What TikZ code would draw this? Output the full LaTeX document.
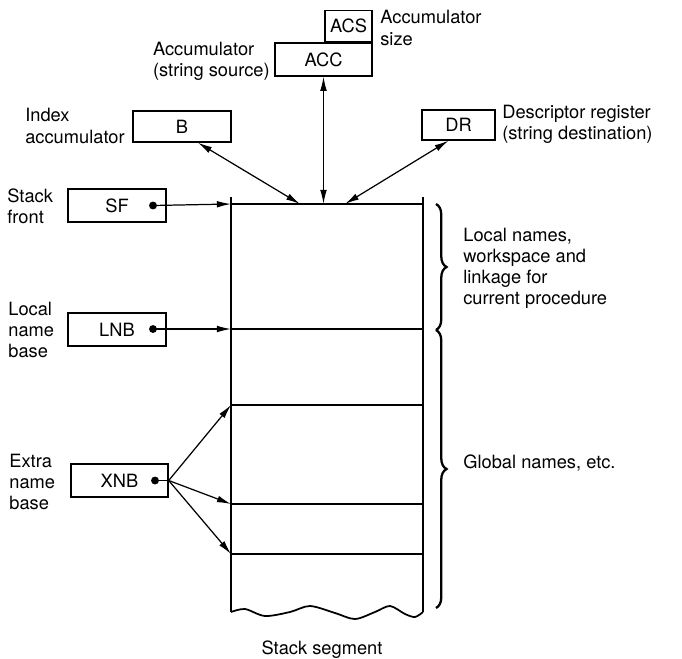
\documentclass[tikz,border=0pt]{standalone}
\usepackage{fontspec}
\setmainfont{TeX Gyre Heros}
\usetikzlibrary{arrows.meta,calc,decorations.pathreplacing}

\begin{document}
\begin{tikzpicture}[x=0.2mm,y=-0.2mm,
	every node/.style={font=\fontsize{10.4}{12}\selectfont},
	reg/.style={draw, line width=0.8pt, inner sep=0pt},
	lbl/.style={align=left, inner sep=0pt},
	dot/.style={circle, fill, inner sep=0pt, minimum size=4.5pt},
	ptr/.style={line width=0.7pt, -{Latex[length=8pt,width=3.8pt]}},
	dptr/.style={line width=0.7pt, {Latex[length=8pt,width=3.8pt]}-{Latex[length=8pt,width=3.8pt]}},
	wall/.style={line width=1pt},
	grp/.style={decorate, decoration={brace, amplitude=6pt}, line width=1.3pt}]
	\useasboundingbox (0,0) rectangle (682,659);
	% registers above the stack
	\node[reg, minimum width=19.4mm, minimum height=6.6mm] (acc) at (323.5,59.5) {ACC};
	\node[reg, minimum width=9.4mm, minimum height=6.2mm, anchor=south east] (acs) at (acc.north east) {ACS};
	\node[lbl, anchor=east] (acclbl) at (270,61) {Accumulator\\(string source)};
	\node[lbl, anchor=west] (acslbl) at (380,28) {Accumulator\\size};
	\node[reg, minimum width=19.6mm, minimum height=6.2mm] (b) at (182,126.5) {B};
	\node[lbl, anchor=east] (blbl) at (125,126) {Index\\accumulator};
	\node[reg, minimum width=14.6mm, minimum height=6mm] (dr) at (458.5,125) {DR};
	\node[lbl, anchor=west] (drlbl) at (502,124) {Descriptor register\\(string destination)};
	% registers at the side
	\node[reg, minimum width=19.6mm, minimum height=6.6mm] (sf) at (117,205.5) {SF};
	\node[lbl, anchor=west] (sflbl) at (7,206) {Stack\\front};
	\node[dot] (sfdot) at (153,205.5) {};
	\node[reg, minimum width=19.6mm, minimum height=6.6mm] (lnb) at (117,329.5) {LNB};
	\node[lbl, anchor=west] (lnblbl) at (8,330) {Local\\name\\base};
	\node[dot] (lnbdot) at (153,329) {};
	\node[reg, minimum width=19.4mm, minimum height=6.6mm] (xnb) at (119.5,480.5) {XNB};
	\node[lbl, anchor=west] (xnblbl) at (9,482) {Extra\\name\\base};
	\node[dot] (xnbdot) at (155,480.5) {};
	% stack segment
	\coordinate (s0) at (231,204);
	\coordinate (s1) at (231,329);
	\coordinate (s2) at (231,405);
	\coordinate (s3) at (231,504);
	\coordinate (s4) at (231,554);
	\coordinate (tb) at (300,204);
	\coordinate (tacc) at (323.5,204);
	\coordinate (tdr) at (345,204);
	\draw[wall] (231,197) -- (231,612);
	\draw[wall] (423,197) -- (423,612);
	\foreach \s in {s0,s1,s2,s3,s4}
		\draw[wall] (\s) -- ++(192,0);
	\draw[wall] plot[smooth] coordinates {(231,612) (245,609) (265,616) (290,612) (310,606) (335,613) (355,619) (375,612) (390,606) (405,614) (415,617) (423,612)};
	\node (seg) at (322,650) {Stack segment};
	% pointers
	\draw[dptr] (acc.south) -- (tacc);
	\draw[dptr] ($(b.south)+(16,0)$) -- (tb);
	\draw[dptr] ($(dr.south)+(-10,0)$) -- (tdr);
	\draw[ptr] (sfdot.center) -- (s0);
	\draw[ptr] (lnbdot.center) -- (s1);
	\draw[line width=0.7pt] (xnbdot.center) -- (xnb.east);
	\foreach \s in {s2,s3,s4}
		\draw[ptr] (xnb.east) -- (\s);
	% braces
	\draw[grp] (436,204) -- (436,330);
	\draw[grp] (436,330) -- (436,608);
	\node[lbl, anchor=west] (loc) at (463,268) {Local names,\\workspace and\\linkage for\\current procedure};
	\node[lbl, anchor=west] (glob) at (463,463) {Global names, etc.};
\end{tikzpicture}
\end{document}
